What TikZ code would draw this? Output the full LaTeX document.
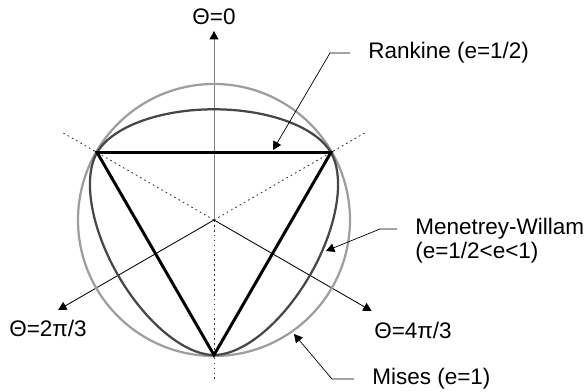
\documentclass[tikz,border=0pt]{standalone}
\usepackage{fontspec}
\setmainfont{Liberation Sans}
\usetikzlibrary{positioning,arrows.meta}
\newcommand{\vrad}{135}
\newcommand{\ecc}{0.82}

\begin{document}
\begin{tikzpicture}[x=0.025cm, y=0.025cm,
    lbl/.style={inner sep=0pt, font=\fontsize{16pt}{19pt}\selectfont},
    tag/.style={lbl, anchor=west, inner xsep=0.45cm},
    tip/.style={-{Triangle[length=0.21cm, width=0.22cm, color=black]}},
    lead/.style={tip, line width=0.5pt},
    axis/.style={tip, line width=0.6pt},
    guide/.style={line width=0.6pt, black!80, dash pattern=on 1.2pt off 2.3pt},
    mises/.style={line width=1.6pt, black!38},
    mwcurve/.style={line width=1.6pt, black!72},
    rankine/.style={line width=2.1pt, black, line join=miter},
    declare function={wwc(\q)=cos(\q-90);
      wwn(\q)=4*(1-\ecc*\ecc)*wwc(\q)*wwc(\q)+(2*\ecc-1)*(2*\ecc-1);
      wwd(\q)=2*(1-\ecc*\ecc)*wwc(\q)+(2*\ecc-1)*sqrt(4*(1-\ecc*\ecc)*wwc(\q)*wwc(\q)+5*\ecc*\ecc-4*\ecc);
      wwr(\q)=\vrad*wwd(\q)/wwn(\q);}]
  \useasboundingbox (-214,-172) rectangle (373,220);
  \coordinate (o) at (0,0);
  \coordinate (a) at (150:\vrad);
  \coordinate (b) at (30:\vrad);
  \coordinate (c) at (270:\vrad);
  \coordinate (g1) at (150:176);
  \coordinate (g2) at (30:174);
  \coordinate (g3) at (270:159);
  \coordinate (t0) at (90:189);
  \coordinate (t1) at (210:180);
  \coordinate (t2) at (330:182);
  \draw[guide] (o) -- (g1);
  \draw[guide] (o) -- (g2);
  \draw[guide] (o) -- (g3);
  \draw[axis, black!50, line width=0.7pt] (o) -- (t0);
  \draw[axis] (o) -- (t1);
  \draw[axis] (o) -- (t2);
  \node[lbl] (th0) at (0,203) {Θ=0};
  \node[lbl] (th1) at (-166,-108) {Θ=2π/3};
  \node[lbl] (th2) at (199,-110) {Θ=4π/3};
  \draw[mises] (o) circle[radius=136];
  \foreach \rot in {0,120,240}
    \draw[mwcurve] plot[domain=30:150, samples=90, smooth] ({\x+\rot}:{wwr(\x)});
  \draw[rankine] (a) -- (b) -- (c) -- cycle;
  \node[tag] (rk) at (136,167) {Rankine (e=1/2)};
  \coordinate (rkk) at (116,167);
  \coordinate (rkt) at (59,70);
  \draw[lead] (rk.west) -- (rkk) -- (rkt);
  \node[tag] (mw) at (183,-9) {Menetrey-Willam};
  \node[lbl, anchor=west] (mwe) at (201,-33) {(e=1/2<e<1)};
  \coordinate (mwk) at (166,-9);
  \coordinate (mwt) at (112,-31);
  \draw[lead] (mw.west) -- (mwk) -- (mwt);
  \node[tag] (mi) at (140,-159) {Mises (e=1)};
  \coordinate (mik) at (118,-159);
  \coordinate (mit) at (80,-114);
  \draw[lead] (mi.west) -- (mik) -- (mit);
\end{tikzpicture}
\end{document}
